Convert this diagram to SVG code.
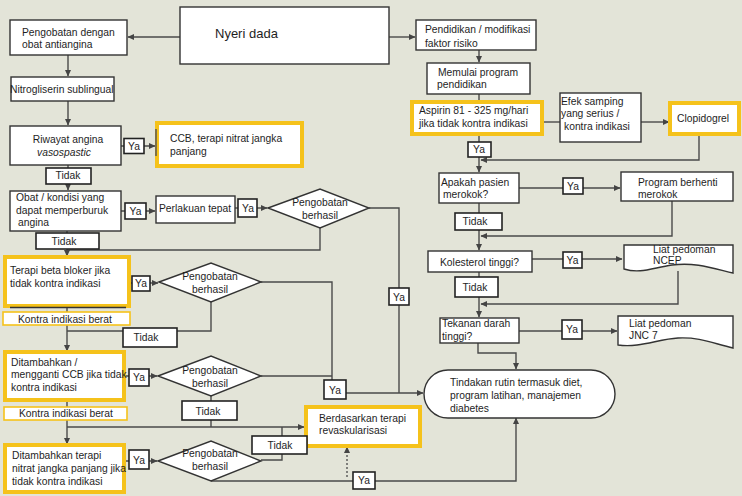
<svg xmlns="http://www.w3.org/2000/svg" width="742" height="496" viewBox="0 0 742 496">
<style>
text{font-family:"Liberation Sans",Arial,sans-serif;font-size:10.3px;fill:#1e1e1e}
.c{text-anchor:middle}
.b{fill:#fff;stroke:#333;stroke-width:1.4}
.y{fill:#fff;stroke:#f5c21b;stroke-width:4}
.yt{fill:#fff;stroke:#f5c21b;stroke-width:1.6}
.lb{fill:#fff;stroke:#222;stroke-width:1.6}
.l{fill:none;stroke:#4a4a4a;stroke-width:1.4}
.a{marker-end:url(#ar)}
.dot{fill:none;stroke:#555;stroke-width:1.4;stroke-dasharray:2 2;marker-end:url(#ar)}
</style>
<defs>
<marker id="ar" markerWidth="7" markerHeight="7" refX="6" refY="3.5" orient="auto" markerUnits="userSpaceOnUse">
<path d="M0,0.5 L6.5,3.5 L0,6.5 Z" fill="#444"/>
</marker>
</defs>
<rect width="742" height="496" fill="#e3e4d8"/>

<g id="connectors">
<path class="l a" d="M180,37 H128"/>
<path class="l a" d="M389,37 H415"/>
<path class="l a" d="M68,55 V76"/>
<path class="l a" d="M68,101 V125"/>
<path class="l a" d="M121,146 H155"/>
<path class="l a" d="M68,165 V190"/>
<path class="l a" d="M121,211 H155"/>
<path class="l a" d="M235,208 H267"/>
<path class="l a" d="M261,282 H332 V393 H423"/>
<path class="l" d="M369,208 H399 V393"/>
<path class="l" d="M261,376 H332"/>
<path class="l" d="M320,228 V250 H67"/>
<path class="l a" d="M67,231 V256"/>
<path class="l a" d="M129,283 H158"/>
<path class="l" d="M211,302 V331 H67"/>
<path class="l a" d="M67,306 V351"/>
<path class="l a" d="M124,376 H157"/>
<path class="l" d="M211,396 V427"/>
<path class="l a" d="M67,427 H304"/>
<path class="l a" d="M67,400 V444"/>
<path class="l a" d="M124,461 H157"/>
<path class="l" d="M261,460 H282 V427"/>
<path class="l a" d="M211,481 H516 V418"/>
<path class="dot" d="M347,477 V447"/>
<path class="l a" d="M479,50 V62"/>
<path class="l" d="M479,94 V101"/>
<path class="l" d="M543,122 H560"/>
<path class="l a" d="M641,122 H669"/>
<path class="l a" d="M479,134 V172"/>
<path class="l a" d="M699,134 V160 H481"/>
<path class="l a" d="M519,188 H620"/>
<path class="l a" d="M479,203 V250"/>
<path class="l a" d="M672,201 V236 H481"/>
<path class="l a" d="M532,259 H622"/>
<path class="l a" d="M479,272 V317"/>
<path class="l a" d="M678,271 V304 H481"/>
<path class="l a" d="M519,331 H617"/>
<path class="l a" d="M478,343 V353 H516 V369"/>
</g>

<g id="nyeri-dada"><rect class="b" x="180" y="7" width="209" height="57"/><text x="215" y="38" style="font-size:13px">Nyeri dada</text></g>
<g id="pengobatan-antiangina"><rect class="b" x="10" y="20" width="117" height="35"/><text x="22" y="35.5">Pengobatan dengan</text><text x="22" y="47.5">obat antiangina</text></g>
<g id="nitrogliserin"><rect class="b" x="11" y="77" width="103" height="24"/><text x="10" y="93">Nitrogliserin sublingual</text></g>
<g id="riwayat"><rect class="b" x="10" y="126" width="111" height="39"/><text class="c" x="68" y="143">Riwayat angina</text><text class="c" x="64" y="156" font-style="italic">vasospastic</text></g>
<g id="ccb"><rect class="y" x="157" y="123" width="145" height="43"/><line x1="156" y1="129" x2="156" y2="156" stroke="#555" stroke-width="1.5"/><text x="170" y="142">CCB, terapi nitrat jangka</text><text x="170" y="155">panjang</text></g>
<g id="obat-kondisi"><rect class="b" x="10" y="191" width="111" height="40"/><text x="16" y="201">Obat / kondisi yang</text><text x="16" y="213.5">dapat memperburuk</text><text x="18" y="226">angina</text></g>
<g id="perlakuan"><rect class="b" x="156" y="196" width="79" height="27"/><text x="159" y="212">Perlakuan tepat</text></g>
<g id="diamond1"><path class="b" d="M268,208 L320,189 L369,208 L320,228 Z"/><text class="c" x="320" y="206">Pengobatan</text><text class="c" x="320" y="219">berhasil</text></g>
<g id="beta-bloker"><rect class="y" x="5" y="257" width="124" height="49"/><line x1="10" y1="307.5" x2="126" y2="307.5" stroke="#333" stroke-width="1.5"/><text x="10" y="274">Terapi beta bloker jika</text><text x="10" y="287">tidak kontra indikasi</text></g>
<g id="diamond2"><path class="b" d="M159,282 L211,263 L261,282 L211,302 Z"/><text class="c" x="210" y="280">Pengobatan</text><text class="c" x="210" y="293">berhasil</text></g>
<g id="kontra1"><rect class="yt" x="3" y="312" width="127" height="13"/><text x="18" y="322.5">Kontra indikasi berat</text></g>
<g id="ccb-ganti"><rect class="y" x="5" y="352" width="119" height="48"/><text x="11" y="365.5">Ditambahkan /</text><text x="11" y="378">mengganti CCB jika tidak</text><text x="11" y="390.5">kontra indikasi</text></g>
<g id="diamond3"><path class="b" d="M158,376 L211,356 L261,376 L211,396 Z"/><text class="c" x="210" y="374">Pengobatan</text><text class="c" x="210" y="387">berhasil</text></g>
<g id="kontra2"><rect class="yt" x="4" y="407" width="123" height="13"/><text x="19" y="417">Kontra indikasi berat</text></g>
<g id="nitrat-panjang"><rect class="y" x="5" y="445" width="119" height="47"/><text x="12" y="458.5">Ditambahkan terapi</text><text x="12" y="471.5">nitrat jangka panjang jika</text><text x="12" y="484.5">tidak kontra indikasi</text></g>
<g id="diamond4"><path class="b" d="M158,461 L211,441 L261,461 L211,481 Z"/><text class="c" x="210" y="457">Pengobatan</text><text class="c" x="210" y="470">berhasil</text></g>
<g id="revaskularisasi"><rect class="y" x="306" y="407" width="114" height="39"/><text x="319" y="421.5">Berdasarkan terapi</text><text x="319" y="434">revaskularisasi</text></g>
<g id="tindakan"><rect class="b" x="424" y="370" width="191" height="48" rx="24" ry="24"/><text x="450" y="386">Tindakan rutin termasuk diet,</text><text x="450" y="399">program latihan, manajemen</text><text x="450" y="412">diabetes</text></g>

<g id="pendidikan"><rect class="b" x="416" y="20" width="120" height="30"/><text x="425" y="33">Pendidikan / modifikasi</text><text x="425" y="46.5">faktor risiko</text></g>
<g id="memulai"><rect class="b" x="427" y="63" width="103" height="31"/><text x="438" y="75.5">Memulai program</text><text x="437" y="88">pendidikan</text></g>
<g id="aspirin"><rect class="y" x="412" y="102" width="130" height="32"/><text x="419" y="113.5">Aspirin 81 - 325 mg/hari</text><text x="419" y="126.5">jika tidak kontra indikasi</text></g>
<g id="efek"><rect class="b" x="560" y="93" width="81" height="49"/><text x="561" y="104.5">Efek samping</text><text x="561" y="117">yang serius /</text><text x="564" y="129.5">kontra indikasi</text></g>
<g id="clopidogrel"><rect class="y" x="670" y="103" width="69" height="31"/><text x="677" y="121.5">Clopidogrel</text></g>
<g id="merokok"><rect class="b" x="439" y="173" width="80" height="30"/><text x="441" y="185.5">Apakah pasien</text><text x="443" y="197.5">merokok?</text></g>
<g id="berhenti"><rect class="b" x="621" y="172" width="112" height="29"/><text x="638" y="185.5">Program berhenti</text><text x="638" y="197.5">merokok</text></g>
<g id="kolesterol"><rect class="b" x="428" y="251" width="104" height="21"/><text x="440" y="265.5">Kolesterol tinggi?</text></g>
<g id="ncep"><path class="b" d="M624,245 H733 V273 C712,268 695,262 672,265 C652,268 640,274 624,269 Z"/><text x="653" y="253">Liat pedoman</text><text x="653" y="264">NCEP</text></g>
<g id="tekanan"><rect class="b" x="440" y="318" width="79" height="25"/><text x="442" y="327">Tekanan darah</text><text x="442" y="339.5">tinggi?</text></g>
<g id="jnc"><path class="b" d="M618,316 H733 V348 C712,343 700,337 678,338 C658,339 640,348 618,345 Z"/><text x="629" y="327">Liat pedoman</text><text x="629" y="339">JNC 7</text></g>

<g id="labels">
<g><rect class="lb" x="124" y="138.5" width="20" height="15"/><text class="c" x="134" y="149.5">Ya</text></g>
<g><rect class="lb" x="46" y="168" width="45" height="16"/><text class="c" x="68" y="179">Tidak</text></g>
<g><rect class="lb" x="125" y="203" width="21" height="16"/><text class="c" x="135.5" y="215">Ya</text></g>
<g><rect class="lb" x="238" y="199" width="19" height="18"/><text class="c" x="248" y="212">Ya</text></g>
<g><rect class="lb" x="36" y="233" width="63" height="16"/><text class="c" x="64" y="245">Tidak</text></g>
<g><rect class="lb" x="389" y="288" width="20" height="17"/><text class="c" x="399" y="300.5">Ya</text></g>
<g><rect class="lb" x="132" y="276" width="18" height="15"/><text class="c" x="141" y="287">Ya</text></g>
<g><rect class="lb" x="123" y="328" width="54" height="19"/><text class="c" x="146" y="341">Tidak</text></g>
<g><rect class="lb" x="129" y="369" width="20" height="17"/><text class="c" x="139" y="381">Ya</text></g>
<g><rect class="lb" x="324" y="380" width="22" height="19"/><text class="c" x="335" y="393.5">Ya</text></g>
<g><rect class="lb" x="182" y="401" width="55" height="19"/><text class="c" x="208" y="414.5">Tidak</text></g>
<g><rect class="lb" x="252" y="436" width="55" height="18"/><text class="c" x="280" y="448.5">Tidak</text></g>
<g><rect class="lb" x="129" y="450" width="20" height="19"/><text class="c" x="139" y="463.5">Ya</text></g>
<g><rect class="lb" x="353" y="472" width="22" height="17"/><text class="c" x="364" y="484">Ya</text></g>
<g><rect class="lb" x="468" y="142" width="23" height="15"/><text class="c" x="479" y="153">Ya</text></g>
<g><rect class="lb" x="563" y="178" width="20" height="16"/><text class="c" x="573" y="190">Ya</text></g>
<g><rect class="lb" x="455" y="213" width="47" height="17"/><text class="c" x="475" y="225">Tidak</text></g>
<g><rect class="lb" x="563" y="252" width="19" height="16"/><text class="c" x="572.5" y="263.5">Ya</text></g>
<g><rect class="lb" x="455" y="277" width="43" height="20"/><text class="c" x="475" y="290.5">Tidak</text></g>
<g><rect class="lb" x="562" y="320" width="20" height="19"/><text class="c" x="572" y="333">Ya</text></g>
</g>
</svg>
